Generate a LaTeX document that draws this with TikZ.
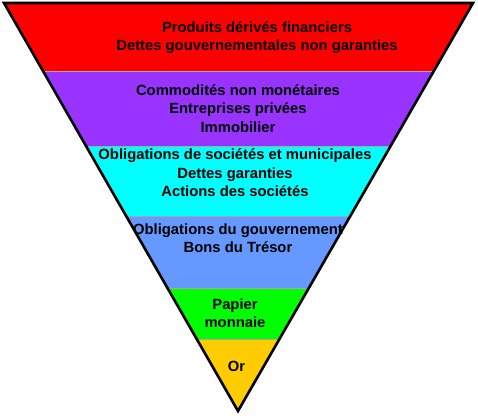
\documentclass[tikz,border=0pt]{standalone}
\usepackage{fontspec}
\setmainfont{Liberation Sans}
\usepackage{xcolor}
\usetikzlibrary{calc}
\definecolor{bandred}{HTML}{FF0000}
\definecolor{bandpurple}{HTML}{9933FF}
\definecolor{bandcyan}{HTML}{00FFFF}
\definecolor{bandblue}{HTML}{6699FF}
\definecolor{bandgreen}{HTML}{00FF00}
\definecolor{bandgold}{HTML}{FFCC00}
\tikzset{
  bandtext/.style={font=\bfseries\fontsize{14.8}{18.4}\selectfont,align=center,inner sep=0pt,text=black},
  bandline/.style={line width=0.6pt,black!35}
}
\begin{document}
\begin{tikzpicture}[x=1pt,y=-1pt]
  \useasboundingbox (0,0) rectangle (478,415);
  \coordinate (tl) at (4,3);
  \coordinate (tr) at (473,3);
  \coordinate (tip) at (238,411);
  % bands, clipped to the triangle
  \begin{scope}
    \clip (tl) -- (tr) -- (tip) -- cycle;
    \fill[bandred] (0,0) rectangle (478,71);
    \fill[bandpurple] (0,71) rectangle (478,146.5);
    \fill[bandcyan] (0,146.5) rectangle (478,216);
    \fill[bandblue] (0,216) rectangle (478,288);
    \fill[bandgreen] (0,288) rectangle (478,339);
    \fill[bandgold] (0,339) rectangle (478,415);
    \foreach \yy in {71,146.5,216,288,339}
      \draw[bandline] (0,\yy) -- (478,\yy);
  \end{scope}
  \draw[line width=2.6pt,line join=miter] (tl) -- (tr) -- (tip) -- cycle;
  % labels
  \node[bandtext] (deriv) at (257,37.5) {Produits dérivés financiers\\Dettes gouvernementales non garanties};
  \node[bandtext] (commod) at (238,108.5) {Commodités non monétaires\\Entreprises privées\\Immobilier};
  \node[bandtext] (oblig) at (235,173) {Obligations de sociétés et municipales\\Dettes garanties\\Actions des sociétés};
  \node[bandtext] (gouv) at (238,238.5) {Obligations du gouvernement\\Bons du Trésor};
  \node[bandtext] (papier) at (235,313.5) {Papier\\monnaie};
  \node[bandtext] (or) at (236.5,366) {Or};
\end{tikzpicture}
\end{document}
